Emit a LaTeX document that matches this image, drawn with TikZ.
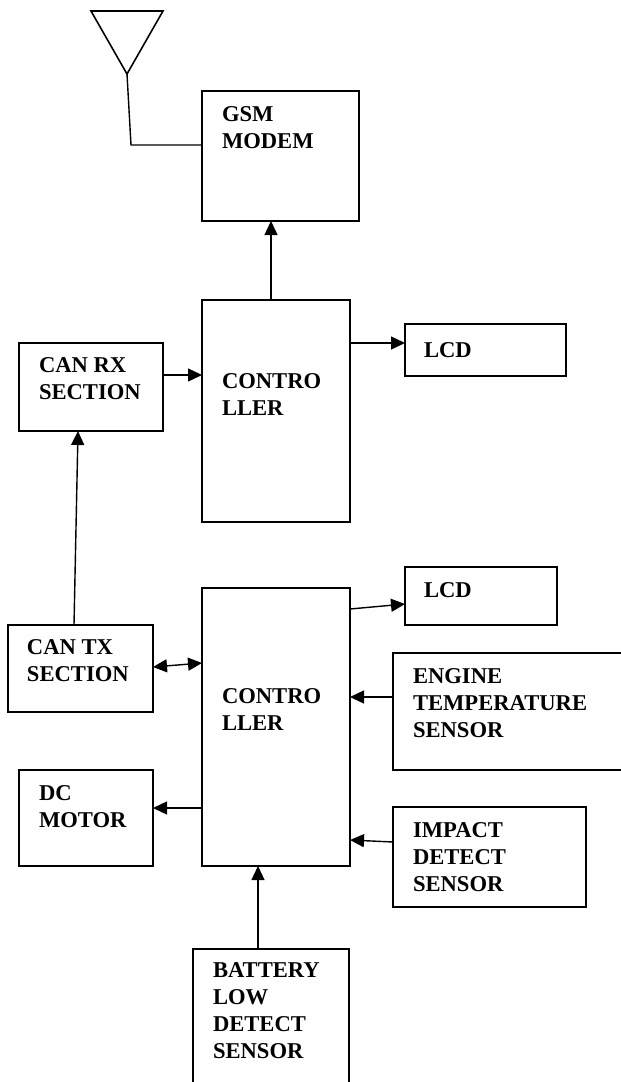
\documentclass[tikz,border=0pt]{standalone}
\usepackage{fontspec}
\setmainfont{Liberation Serif}
\usetikzlibrary{arrows.meta,calc}
\tikzset{
  box/.style={draw, line width=1.7pt, inner sep=0pt, outer sep=0pt, anchor=north west},
  txt/.style={anchor=north west, inner sep=0pt, outer sep=0pt, align=left,
    font=\fontsize{22.6}{27}\selectfont\bfseries},
  conn/.style={line width=1.4pt},
  arr/.style={conn, -{Triangle[length=14pt,width=13pt]}},
  darr/.style={conn, {Triangle[length=14pt,width=13pt]}-{Triangle[length=14pt,width=13pt]}}
}
\begin{document}
\begin{tikzpicture}[x=1pt,y=-1pt]
\useasboundingbox (0,0) rectangle (621,1082);
\clip (0,0) rectangle (621,1082);
% boxes
\node[box, minimum width=157pt, minimum height=130pt] (gsm) at (202,91) {};
\node[box, minimum width=148pt, minimum height=222pt] (ctrl1) at (202,300) {};
\node[box, minimum width=161pt, minimum height=52pt] (lcd1) at (405,324) {};
\node[box, minimum width=144pt, minimum height=88pt] (canrx) at (19,343) {};
\node[box, minimum width=152pt, minimum height=58pt] (lcd2) at (405,567) {};
\node[box, minimum width=148pt, minimum height=278pt] (ctrl2) at (202,588) {};
\node[box, minimum width=145pt, minimum height=87pt] (cantx) at (8,625) {};
\node[box, minimum width=247pt, minimum height=117pt] (engine) at (393,653) {};
\node[box, minimum width=134pt, minimum height=96pt] (dc) at (19,770) {};
\node[box, minimum width=193pt, minimum height=100pt] (impact) at (393,807) {};
\node[box, minimum width=156pt, minimum height=151pt] (battery) at (193,949) {};
% texts
\node[txt] (tgsm) at (222,107) {GSM\\MODEM};
\node[txt] (tctrl1) at (222,374) {CONTRO\\LLER};
\node[txt] (tlcd1) at (424,343) {LCD};
\node[txt] (tcanrx) at (39,358) {CAN RX\\SECTION};
\node[txt] (tlcd2) at (424,583) {LCD};
\node[txt] (tctrl2) at (222,689) {CONTRO\\LLER};
\node[txt] (tcantx) at (27,640) {CAN TX\\SECTION};
\node[txt] (tengine) at (413,669) {ENGINE\\TEMPERATURE\\SENSOR};
\node[txt] (tdc) at (39,786) {DC\\MOTOR};
\node[txt] (timpact) at (413,823) {IMPACT\\DETECT\\SENSOR};
\node[txt] (tbattery) at (213,963) {BATTERY\\LOW\\DETECT\\SENSOR};
% antenna
\draw[line width=1.6pt, line join=miter] (91,11) -- (163,11) -- (127,74) -- cycle;
\coordinate (ant) at (127,74);
\coordinate (bend) at (131,145);
\draw[conn] (ant) -- (bend) -- (bend -| gsm.west);
% connectors
\draw[arr] ($(ctrl1.north west)+(69,0)$) -- ($(gsm.south west)+(69,0)$);
\draw[arr] ($(ctrl1.north east)+(0,43)$) -- ($(lcd1.north west)+(0,19)$);
\draw[arr] ($(canrx.north east)+(0,32)$) -- ($(ctrl1.north west)+(0,75)$);
\draw[arr] ($(cantx.north west)+(66,0)$) -- ($(canrx.south west)+(59,0)$);
\draw[arr] ($(ctrl2.north east)+(0,21)$) -- ($(lcd2.north west)+(0,37)$);
\draw[darr] ($(cantx.north east)+(0,42)$) -- ($(ctrl2.north west)+(0,75)$);
\draw[arr] ($(engine.north west)+(0,44)$) -- ($(ctrl2.north east)+(0,109)$);
\draw[arr] ($(ctrl2.north west)+(0,220)$) -- ($(dc.north east)+(0,38)$);
\draw[arr] ($(impact.north west)+(0,35)$) -- ($(ctrl2.north east)+(0,252)$);
\draw[arr] ($(battery.north west)+(65,0)$) -- ($(ctrl2.south west)+(56,0)$);
\end{tikzpicture}
\end{document}
